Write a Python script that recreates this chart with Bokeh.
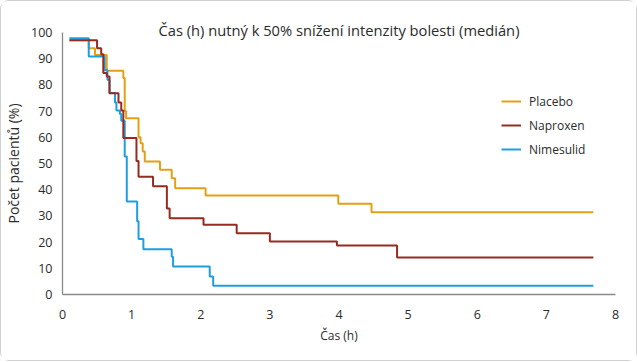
from bokeh.plotting import figure
from bokeh.models import Range1d, FixedTicker, Legend, LegendItem
from bokeh.embed import file_html
from bokeh.resources import INLINE

# Kaplan-Meier style step data (time in hours, % of patients)
placebo_t = [0.10, 0.38, 0.47, 0.64, 0.88, 0.90, 0.92, 1.10, 1.13, 1.16, 1.19, 1.41, 1.58, 1.63, 2.07, 3.99, 4.47, 7.68]
placebo_p = [97, 94, 91.4, 85.4, 82.6, 70, 67.3, 60, 57.7, 54.6, 50.8, 47.6, 44.4, 40.6, 37.8, 34.6, 31.4, 31.4]

naproxen_t = [0.10, 0.50, 0.56, 0.59, 0.64, 0.68, 0.81, 0.85, 0.88, 1.07, 1.10, 1.31, 1.51, 1.55, 2.04, 2.52, 3.00, 3.97, 4.84, 7.68]
naproxen_p = [97, 94, 91.7, 84.5, 83.2, 76.8, 73.3, 70.2, 59.7, 51, 44.9, 41.3, 32.8, 29.1, 26.6, 23.4, 20.2, 18.7, 14.1, 14.1]

nimesulid_t = [0.10, 0.38, 0.61, 0.65, 0.68, 0.76, 0.78, 0.83, 0.85, 0.90, 0.93, 1.08, 1.10, 1.17, 1.58, 1.60, 2.13, 2.18, 7.68]
nimesulid_p = [97.8, 90.8, 85.6, 82, 76.9, 73.3, 70.2, 68.9, 66.3, 52.7, 35.5, 28, 21.2, 17.3, 14.4, 10.7, 6.9, 3.3, 3.3]

x_ticks = [0, 1, 2, 3, 4, 5, 6, 7, 8]
y_ticks = [0, 10, 20, 30, 40, 50, 60, 70, 80, 90, 100]

series_names = ["Placebo", "Naproxen", "Nimesulid"]
colors = {"Placebo": "#E4A015", "Naproxen": "#962B1F", "Nimesulid": "#1E9EE0"}

title_text = "Čas (h) nutný k 50% snížení intenzity bolesti (medián)"
x_label = "Čas (h)"
y_label = "Počet pacientů (%)"

FONT = "Open Sans"
TXT = "#2b2b2b"

p = figure(width=637, height=361, output_backend="svg", toolbar_location=None,
           x_range=Range1d(0, 8), y_range=Range1d(0, 100),
           min_border_left=61, min_border_right=23, min_border_top=31, min_border_bottom=68,
           title=title_text)
p.styles = {"border": "1px solid #d0d0d0", "border-radius": "9px"}

p.title.align = "center"
p.title.offset = 9
p.title.standoff = -14
p.title.text_font = FONT
p.title.text_font_size = "14.7px"
p.title.text_font_style = "normal"
p.title.text_color = TXT

p.outline_line_color = None
p.grid.visible = False
p.background_fill_color = "white"
p.border_fill_color = "white"

for ax in (p.xaxis[0], p.yaxis[0]):
    ax.major_tick_line_color = None
    ax.minor_tick_line_color = None
    ax.axis_line_color = "#8a8a8a"
    ax.axis_line_width = 1.3
    ax.major_label_text_font = FONT
    ax.major_label_text_font_size = "12.5px"
    ax.major_label_text_color = TXT
    ax.axis_label_text_font = FONT
    ax.axis_label_text_font_style = "normal"
    ax.axis_label_text_color = TXT

p.xaxis.ticker = FixedTicker(ticks=x_ticks)
p.yaxis.ticker = FixedTicker(ticks=y_ticks)
p.xaxis.axis_label = x_label
p.yaxis.axis_label = y_label
p.xaxis.axis_label_text_font_size = "12px"
p.yaxis.axis_label_text_font_size = "14px"
p.xaxis.major_label_standoff = 9
p.yaxis.major_label_standoff = 4
p.xaxis.axis_label_standoff = 5
p.yaxis.axis_label_standoff = 5

r_pl = p.step(placebo_t, placebo_p, mode="after", line_color=colors["Placebo"], line_width=2)
r_ni = p.step(nimesulid_t, nimesulid_p, mode="after", line_color=colors["Nimesulid"], line_width=2)
r_na = p.step(naproxen_t, naproxen_p, mode="after", line_color=colors["Naproxen"], line_width=2)

legend = Legend(items=[LegendItem(label=series_names[0], renderers=[r_pl]),
                       LegendItem(label=series_names[1], renderers=[r_na]),
                       LegendItem(label=series_names[2], renderers=[r_ni])],
                location=(439, 135), padding=0, margin=0, spacing=4,
                glyph_width=20, glyph_height=20, label_height=20, label_standoff=8,
                border_line_color=None, background_fill_alpha=0,
                label_text_font=FONT, label_text_font_size="12px", label_text_color=TXT)
p.add_layout(legend)

open("out.html", "w").write(file_html(p, INLINE))
